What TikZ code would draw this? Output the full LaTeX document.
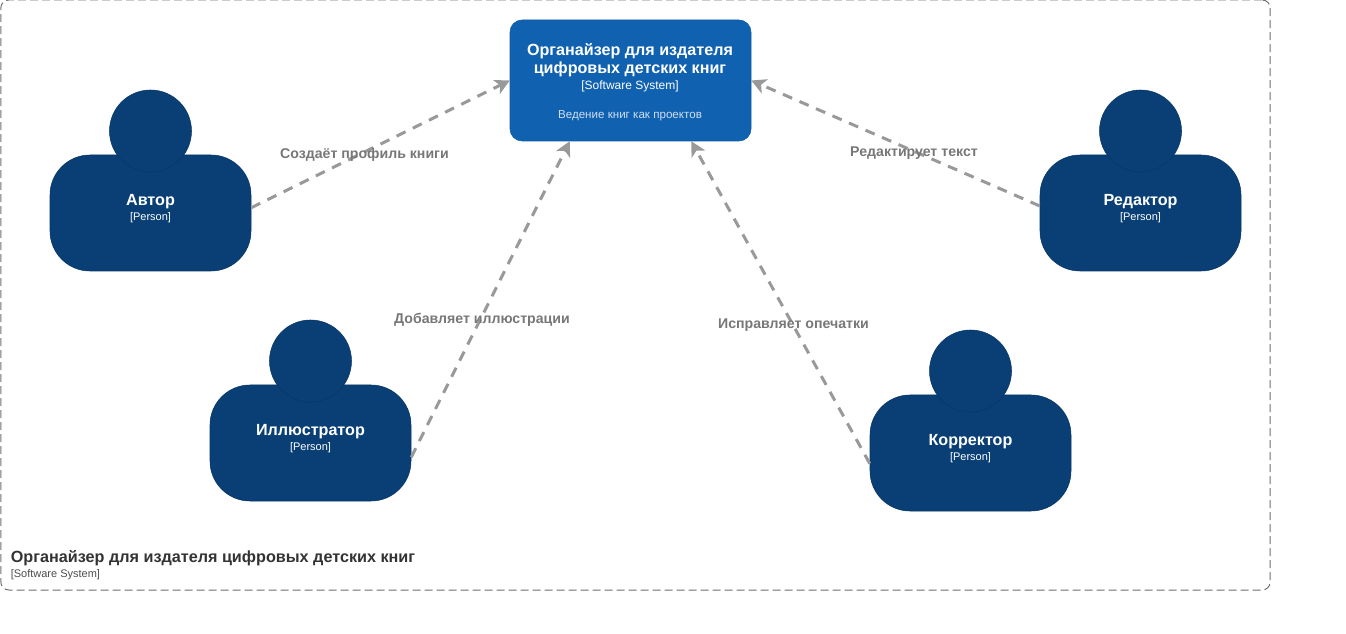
\documentclass[tikz,border=0pt]{standalone}
\usepackage{fontspec}
\setmainfont{Liberation Sans}
\usetikzlibrary{arrows.meta}
\definecolor{clrperson}{HTML}{093F75}
\definecolor{clrpersonline}{HTML}{073664}
\definecolor{clrsystem}{HTML}{1061B0}
\definecolor{clrsystemline}{HTML}{0F5CA6}
\definecolor{clrarrow}{HTML}{999999}
\definecolor{clrlabel}{HTML}{777777}
\definecolor{clrframe}{HTML}{6E6E6E}
\definecolor{clrdescr}{HTML}{CFE0F2}
\newcommand{\pxunit}{0.75pt}
\tikzset{
    personbody/.style = {draw=clrpersonline, fill=clrperson, rounded corners=30pt, minimum width=150.75pt, minimum height=87pt, inner sep=0pt},
    personhead/.style = {circle, draw=clrpersonline, fill=clrperson, minimum size=61.5pt, inner sep=0pt},
    persontext/.style = {text=white, align=center, inner sep=0pt},
    systembox/.style = {draw=clrsystemline, fill=clrsystem, rounded corners=9pt, minimum width=180.75pt, minimum height=90.75pt, inner sep=0pt, text=white, align=center},
    framebox/.style = {draw=clrframe, line width=0.75pt, dash pattern=on 6pt off 3pt, rounded corners=6pt, minimum width=952pt, minimum height=442.5pt, inner sep=0pt},
    uses/.style = {draw=clrarrow, line width=2.25pt, dash pattern=on 7.5pt off 6pt, -{Stealth[length=11pt,width=11.5pt,inset=3pt]}},
    useslabel/.style = {text=clrlabel, font=\bfseries\fontsize{10.6}{12.5}\selectfont, inner sep=0pt},
}

\begin{document}
\begin{tikzpicture}[x=\pxunit, y=-\pxunit]
    \useasboundingbox (0,0) rectangle (1346,634);

%boundary
    \node[framebox] (frame) at (635.5,295) {};
    \node[anchor=west, inner sep=0pt, text=black!80, font=\bfseries\fontsize{12.15}{14}\selectfont] (frametitle) at (10.5,558.5) {Органайзер для издателя цифровых детских книг};
    \node[anchor=west, inner sep=0pt, text=black!70, font=\fontsize{8.25}{10}\selectfont] (frametype) at (10.5,574.5) {[Software System]};

%system
    \node[systembox] (system) at (630.5,80.5) {};
    \node[persontext, font=\bfseries\fontsize{12.1}{13.5}\selectfont] (systemtitle) at (630,60) {Органайзер для издателя\\цифровых детских книг};
    \node[persontext, font=\fontsize{9}{11}\selectfont] (systemtype) at (630,86) {[Software System]};
    \node[persontext, text=clrdescr, font=\fontsize{8.7}{10}\selectfont] (systemdescr) at (630,115.5) {Ведение книг как проектов};

%persons
    \foreach\n/\x/\y/\t in {author/150.5/213/Автор,illustrator/310.5/443/Иллюстратор,corrector/970.5/453/Корректор,editor/1140.5/213/Редактор} {
        \node[personbody] (\n) at (\x,\y) {};
        \node[personhead] (\n head) at (\x,\y-82) {};
        \node[persontext, font=\bfseries\fontsize{12.1}{14}\selectfont] (\n name) at (\x,\y-11.5) {\t};
        \node[persontext, font=\fontsize{8.25}{10}\selectfont] (\n type) at (\x,\y+4.5) {[Person]};
    }

%%%%        Edges
    \draw[uses] (author.3) -- (system.180.7);
    \draw[uses] (illustrator.-8.5) -- (system.225);
    \draw[uses] (corrector.186.8) -- (system.-45);
    \draw[uses] (editor.176.6) -- (system.-0.7);

%%%%        Labels
    \node[useslabel] (authorlabel) at (364.5,155) {Создаёт профиль книги};
    \node[useslabel] (illustratorlabel) at (482,320) {Добавляет иллюстрации};
    \node[useslabel] (correctorlabel) at (793.5,325) {Исправляет опечатки};
    \node[useslabel] (editorlabel) at (914,153) {Редактирует текст};
\end{tikzpicture}
\end{document}
